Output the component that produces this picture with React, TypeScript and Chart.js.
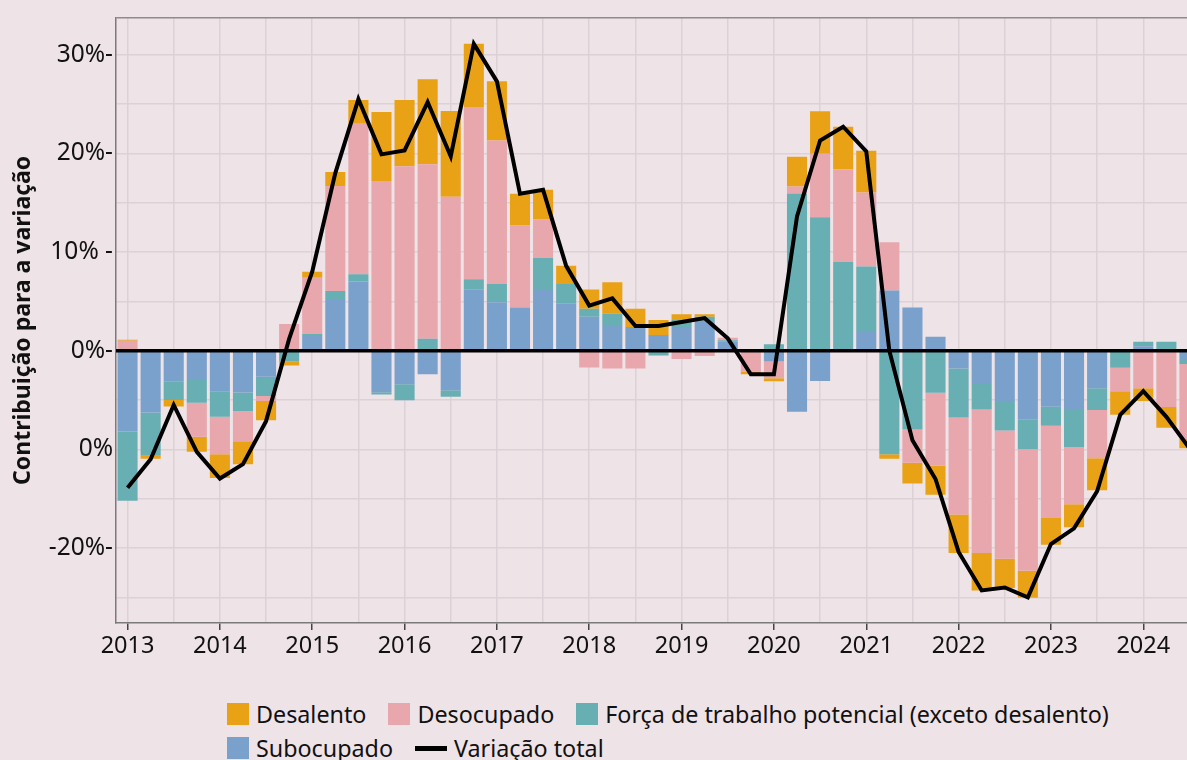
import React, { useEffect, useRef } from 'react';
import { Chart, registerables } from 'chart.js';

Chart.register(...registerables);

// ---------- data ----------
const years = [2013, 2014, 2015, 2016, 2017, 2018, 2019, 2020, 2021, 2022, 2023, 2024];
const quarterNames = ['T1', 'T2', 'T3', 'T4'];

const subocupado = [
  -8.2, -6.26, -3.15, -2.98,
  -4.1, -4.23, -2.64, 0,
  1.5, 5.25, 7.0, -4.2,
  -3.4, -2.4, -4.0, 6.22,
  4.9, 4.37, 6.26, 4.77,
  3.45, 2.6, 2.4, 1.6,
  2.4, 2.9, 0.9, 0,
  -1.1, -6.2, -3.08, 0,
  2.0, 6.09, 4.37, 1.42,
  -1.8, -3.38, -5.2, -6.94,
  -5.69, -5.9, -3.8, 0,
  0.45, 0, -0.95,
];

const forca = [
  -7.0, -4.4, -1.85, -2.3,
  -2.6, -1.9, -1.96, -1.1,
  0.2, 0.8, 0.75, -0.25,
  -1.63, 1.2, -0.67, 1.02,
  1.87, 0, 3.14, 2.0,
  0.81, 1.16, 0, -0.5,
  0.7, 0.55, 0.15, 0,
  0.64, 15.94, 13.53, 9.0,
  6.53, -10.5, -8.0, -4.26,
  -4.97, -2.58, -2.9, -3.06,
  -1.91, -3.85, -2.2, -1.73,
  0.46, 0.91, -0.4,
];

const desocupado = [
  1.0, 0, 0, -3.45,
  -3.8, -3.05, -0.5, 2.7,
  5.7, 10.65, 15.25, 17.2,
  18.7, 17.7, 15.6, 17.46,
  14.53, 8.33, 3.9, 0,
  -1.7, -1.8, -1.8, 0,
  -0.85, -0.55, 0.25, -2.1,
  -1.7, 0.71, 6.44, 9.4,
  7.51, 4.91, -3.37, -7.41,
  -9.83, -14.54, -13.0, -12.3,
  -9.35, -5.82, -4.9, -2.37,
  -3.8, -5.7, -7.61,
];

const desalento = [
  0.1, -0.3, -0.65, -1.52,
  -2.4, -2.33, -1.94, -0.4,
  0.6, 1.4, 2.4, 7.0,
  6.7, 8.6, 8.7, 6.4,
  6.0, 3.2, 3.0, 1.83,
  1.94, 3.18, 1.86, 1.5,
  0.6, 0.25, 0, -0.3,
  -0.3, 3.0, 4.29, 4.3,
  4.23, -0.46, -2.1, -2.93,
  -3.9, -3.8, -2.96, -2.74,
  -2.71, -2.33, -3.25, -2.4,
  -1.3, -2.1, -0.94,
];

const variacaoTotal = [
  -13.9, -11.0, -5.5, -10.25,
  -12.96, -11.5, -7.14, 1.2,
  8.0, 18.0, 25.5, 19.9,
  20.3, 25.2, 19.7, 31.1,
  27.3, 15.9, 16.3, 8.6,
  4.57, 5.3, 2.5, 2.5,
  2.9, 3.3, 1.25, -2.4,
  -2.4, 13.6, 21.3, 22.7,
  20.2, 0.0, -9.07, -13.0,
  -20.4, -24.3, -24.0, -25.0,
  -19.6, -18.0, -14.25, -6.5,
  -4.1, -6.7, -9.9,
];

const quarters: string[] = years
  .flatMap((y) => quarterNames.map((q) => `${y} ${q}`))
  .slice(0, variacaoTotal.length);

const yTickValues = [30, 20, 10, 0, -10, -20];
const yTickLabels = ['30%-', '20%-', '10% -', '0%-', '0%', '-20%-'];
const yGridValues = [-25, -20, -15, -10, -5, 0, 5, 10, 15, 20, 25, 30];
const yMin = -27.6;
const yMax = 33.75;

const seriesNames = {
  desalento: 'Desalento',
  desocupado: 'Desocupado',
  forca: 'Força de trabalho potencial (exceto desalento)',
  subocupado: 'Subocupado',
  total: 'Variação total',
};

// ---------- styles ----------
const BG = '#EEE3E7';
const GRID = '#DCD1D6';
const COLORS = {
  desalento: '#E9A216',
  desocupado: '#E7A7AD',
  forca: '#68AFB3',
  subocupado: '#7AA0CC',
  total: '#000000',
};
const FONT = "'Noto Sans', 'DejaVu Sans', sans-serif";

const legendRows: (keyof typeof seriesNames)[][] = [
  ['desalento', 'desocupado', 'forca'],
  ['subocupado', 'total'],
];

const zeroLinePlugin = {
  id: 'zeroLine',
  afterDatasetsDraw(chart: any) {
    const { ctx, chartArea, scales } = chart;
    const y = scales.y.getPixelForValue(0);
    ctx.save();
    ctx.strokeStyle = '#000';
    ctx.lineWidth = 3.5;
    ctx.beginPath();
    ctx.moveTo(chartArea.left, y);
    ctx.lineTo(chartArea.right, y);
    ctx.stroke();
    ctx.restore();
  },
};

function ChartCanvas() {
  const ref = useRef<HTMLCanvasElement | null>(null);

  useEffect(() => {
    if (!ref.current) return;
    Chart.defaults.font.family = FONT;
    Chart.defaults.color = '#111';

    const barCommon = {
      type: 'bar' as const,
      stack: 'bars',
      order: 1,
      borderWidth: 0,
      barPercentage: 0.87,
      categoryPercentage: 1.0,
    };

    const chart = new Chart(ref.current, {
      type: 'bar',
      data: {
        labels: quarters,
        datasets: [
          { ...barCommon, label: seriesNames.subocupado, data: subocupado, backgroundColor: COLORS.subocupado },
          { ...barCommon, label: seriesNames.forca, data: forca, backgroundColor: COLORS.forca },
          { ...barCommon, label: seriesNames.desocupado, data: desocupado, backgroundColor: COLORS.desocupado },
          { ...barCommon, label: seriesNames.desalento, data: desalento, backgroundColor: COLORS.desalento },
          {
            type: 'line' as const,
            label: seriesNames.total,
            data: variacaoTotal,
            stack: 'total',
            order: 0,
            borderColor: COLORS.total,
            borderWidth: 4,
            borderJoinStyle: 'miter',
            pointRadius: 0,
            tension: 0,
            fill: false,
          } as any,
        ],
      },
      options: {
        responsive: false,
        animation: false,
        layout: { padding: { top: 16, right: 9, bottom: 0, left: 0 } },
        plugins: {
          legend: { display: false },
          tooltip: { enabled: false },
          title: { display: false },
        },
        scales: {
          x: {
            stacked: true,
            offset: true,
            grid: {
              offset: false,
              color: (ctx: any) => {
                const q = quarters[ctx.index] || '';
                return q.endsWith('T1') || q.endsWith('T3') ? GRID : 'rgba(0,0,0,0)';
              },
              lineWidth: 1.5,
              tickColor: (ctx: any) => {
                const q = quarters[ctx.index] || '';
                return q.endsWith('T1') ? '#444' : 'rgba(0,0,0,0)';
              },
              tickLength: 7,
              tickWidth: 1.5,
            },
            border: { color: '#7a7a7a', width: 1.5 },
            ticks: {
              autoSkip: false,
              maxRotation: 0,
              minRotation: 0,
              padding: 2,
              font: { size: 23.5 },
              color: '#111',
              callback: (_v: any, index: number) => {
                const q = quarters[index] || '';
                return q.endsWith('T1') ? q.slice(0, 4) : '';
              },
            },
            afterFit: (scale: any) => {
              scale.height = 47;
            },
          },
          y: {
            stacked: true,
            min: yMin,
            max: yMax,
            afterBuildTicks: (scale: any) => {
              scale.ticks = [...yGridValues, yMax].map((v) => ({ value: v }));
            },
            grid: {
              color: (ctx: any) => {
                const v = ctx.tick ? ctx.tick.value : null;
                if (v === yMax) return '#8c8c8c';
                if (v === 0) return 'rgba(0,0,0,0)';
                return GRID;
              },
              lineWidth: 1.5,
              drawTicks: false,
            },
            border: { color: '#7a7a7a', width: 1.5 },
            ticks: {
              autoSkip: false,
              padding: 3,
              font: { size: 24.5 },
              color: '#111',
              callback: (value: any) => {
                const i = yTickValues.indexOf(Number(value));
                return i >= 0 ? yTickLabels[i] : '';
              },
            },
            title: {
              display: true,
              text: 'Contribuição para a variação',
              font: { size: 23, weight: 'bold' },
              color: '#111',
              padding: { top: 10, bottom: 0 },
            },
            afterFit: (scale: any) => {
              scale.width = 116;
            },
          },
        },
      },
      plugins: [zeroLinePlugin],
    });

    return () => chart.destroy();
  }, []);

  return <canvas ref={ref} width={1210} height={670} style={{ display: 'block' }} />;
}

function Legend() {
  return (
    <div style={{ position: 'absolute', left: 227, top: 703, fontFamily: FONT, color: '#111' }}>
      {legendRows.map((row, ri) => (
        <div key={ri} style={{ display: 'flex', alignItems: 'center', height: 22, marginBottom: 12 }}>
          {row.map((key) => (
            <div key={key} style={{ display: 'flex', alignItems: 'center', marginRight: 22 }}>
              {key === 'total' ? (
                <div style={{ width: 32, height: 5, background: COLORS.total, marginRight: 7 }} />
              ) : (
                <div style={{ width: 22, height: 22, background: COLORS[key], marginRight: 7 }} />
              )}
              <span style={{ fontSize: 23.3, lineHeight: '22px', whiteSpace: 'nowrap' }}>{seriesNames[key]}</span>
            </div>
          ))}
        </div>
      ))}
    </div>
  );
}

export default function App() {
  return (
    <div
      style={{
        position: 'absolute',
        left: 0,
        top: 0,
        width: 1187,
        height: 760,
        overflow: 'hidden',
        background: BG,
      }}
    >
      <ChartCanvas />
      <Legend />
    </div>
  );
}
